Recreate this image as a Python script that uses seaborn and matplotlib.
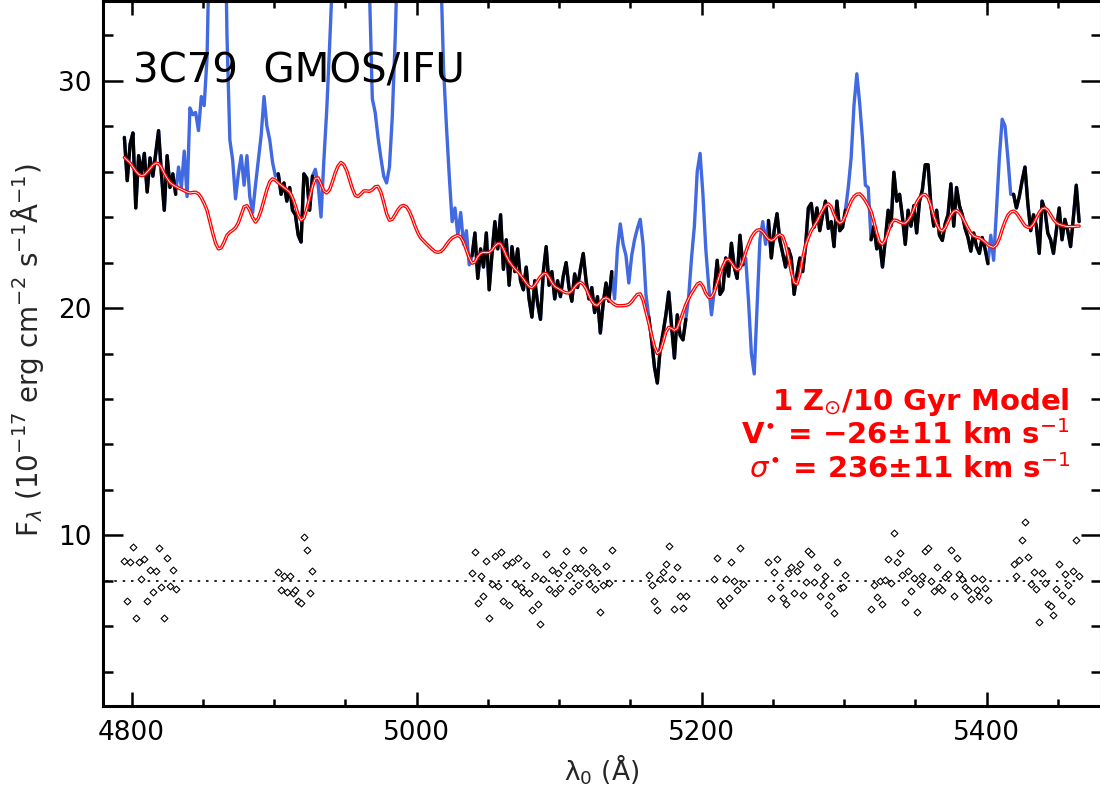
import numpy as np
import pandas as pd
import matplotlib
matplotlib.use("Agg")
import matplotlib.pyplot as plt
from matplotlib.ticker import MultipleLocator, FixedLocator
import seaborn as sns

# Rest-frame wavelength grid of the extracted spectrum (Angstrom)
wave = np.arange(4795, 5466, 2)

# Observed flux density, 1e-17 erg/cm2/s/A
flux = [
    27.5, 25.6, 27.2, 27.7, 24.4, 26.7, 25.9, 26.8, 25.1, 26.6,   # 4795
    25.8, 26.8, 27.8, 25.9, 24.3, 26.7, 25.3, 25.9, 25.0, 26.2,   # 4815
    25.3, 26.9, 24.9, 28.8, 28.5, 28.6, 27.8, 29.3, 28.9, 31.0,   # 4835
    37.0, 43.0, 48.0, 50.0, 47.0, 40.0, 32.0, 27.4, 26.5, 24.8,   # 4855
    25.9, 26.7, 25.4, 26.7, 24.9, 24.2, 25.4, 26.5, 27.6, 29.3,   # 4875
    28.0, 27.4, 26.4, 25.8, 25.9, 25.0, 25.5, 24.7, 25.3, 24.3,   # 4895
    24.1, 23.2, 22.9, 25.9, 25.7, 24.3, 25.8, 26.1, 25.4, 24.0,   # 4915
    26.5, 28.7, 31.5, 34.5, 40.0, 47.0, 55.0, 62.0, 66.0, 68.0,   # 4935
    69.0, 66.0, 61.0, 54.0, 47.0, 40.0, 34.0, 29.2, 28.6, 27.5,   # 4955
    26.6, 25.8, 25.5, 26.2, 28.4, 31.8, 36.0, 45.0, 60.0, 80.0,   # 4975
    100., 130., 160., 180., 190., 185., 170., 140., 100., 70.0,   # 4995
    45.0, 35.0, 30.5, 28.0, 25.8, 23.8, 24.4, 23.2, 24.2, 22.8,   # 5015
    23.4, 21.9, 22.3, 23.3, 21.3, 22.6, 21.8, 23.3, 20.8, 22.4,   # 5035
    23.8, 22.6, 24.1, 21.7, 23.0, 21.0, 22.7, 21.6, 22.6, 21.2,   # 5055
    20.8, 21.8, 20.4, 19.6, 21.2, 20.2, 19.5, 21.6, 22.7, 21.0,   # 5075
    21.6, 20.4, 21.2, 20.5, 21.4, 22.0, 20.9, 20.3, 21.5, 20.9,   # 5095
    21.7, 22.4, 21.2, 20.4, 20.9, 19.8, 20.5, 18.9, 20.2, 21.1,   # 5115
    20.3, 21.6, 20.4, 22.6, 23.7, 22.8, 22.3, 21.1, 22.3, 23.0,   # 5135
    23.5, 23.9, 22.8, 20.6, 19.6, 18.6, 17.4, 16.7, 18.2, 18.9,   # 5155
    19.7, 20.7, 19.2, 17.8, 19.7, 18.8, 18.6, 19.5, 20.5, 22.2,   # 5175
    23.6, 26.0, 26.8, 25.0, 22.6, 21.0, 19.7, 20.8, 22.1, 20.6,   # 5195
    20.8, 22.2, 21.4, 22.85, 21.8, 21.3, 23.2, 21.9, 22.2, 20.3,  # 5215
    18.0, 17.1, 20.0, 23.0, 23.8, 22.8, 23.85, 22.2, 23.4, 24.15, # 5235
    22.97, 22.4, 21.8, 22.6, 22.2, 20.6, 21.5, 22.2, 21.6, 22.7,  # 5255
    24.4, 24.6, 23.55, 24.4, 23.4, 24.1, 24.7, 23.5, 23.8, 22.7,  # 5275
    24.7, 23.4, 23.55, 24.3, 25.3, 26.6, 28.9, 30.3, 29.0, 27.4,  # 5295
    25.4, 25.3, 23.0, 23.6, 22.6, 22.9, 21.8, 23.0, 24.3, 23.6,   # 5315
    25.97, 24.7, 25.0, 24.0, 22.8, 24.3, 23.6, 24.5, 23.3, 24.7,  # 5335
    25.2, 26.3, 26.3, 24.5, 23.6, 24.3, 23.2, 22.97, 23.7, 24.1,  # 5355
    25.46, 23.6, 25.3, 24.5, 24.1, 23.5, 23.1, 22.5, 23.3, 22.7,  # 5375
    22.4, 23.1, 22.6, 21.95, 23.2, 22.1, 24.3, 26.6, 28.3, 28.0,  # 5395
    26.6, 25.0, 25.0, 24.4, 24.9, 25.6, 26.2, 24.6, 23.4, 24.1,   # 5415
    23.6, 22.4, 24.7, 24.3, 23.3, 23.0, 22.4, 23.4, 24.4, 23.0,   # 5435
    23.9, 23.4, 22.7, 24.0, 25.4, 23.8,                           # 5455
]

# Best-fitting stellar population model on the same grid
model = [
    26.62, 26.5, 26.38, 26.2, 26.02, 25.88, 25.82, 25.85, 25.98, 26.12,   # 4795
    26.28, 26.37, 26.35, 26.18, 25.92, 25.7, 25.52, 25.42, 25.35, 25.28,  # 4815
    25.22, 25.16, 25.1, 25.06, 25.08, 25.09, 25.02, 24.85, 24.6, 24.3,    # 4835
    23.8, 23.3, 22.85, 22.6, 22.65, 22.9, 23.2, 23.33, 23.42, 23.53,      # 4855
    23.75, 24.1, 24.45, 24.5, 24.3, 23.98, 23.78, 23.95, 24.3, 24.75,     # 4875
    25.2, 25.55, 25.68, 25.62, 25.5, 25.4, 25.3, 25.2, 25.09, 24.85,      # 4895
    24.5, 24.1, 23.86, 23.95, 24.35, 24.85, 25.35, 25.7, 25.72, 25.45,    # 4915
    25.15, 25.06, 25.2, 25.55, 25.95, 26.25, 26.4, 26.3, 26.05, 25.65,    # 4935
    25.25, 24.95, 24.9, 25.02, 25.15, 25.15, 25.13, 25.2, 25.33, 25.35,   # 4955
    25.1, 24.65, 24.15, 23.86, 23.9, 24.1, 24.32, 24.47, 24.51, 24.45,    # 4975
    24.25, 23.95, 23.6, 23.3, 23.08, 22.95, 22.82, 22.7, 22.58, 22.48,    # 4995
    22.45, 22.48, 22.6, 22.78, 22.95, 23.08, 23.15, 23.19, 23.12, 22.9,   # 5015
    22.55, 22.2, 21.97, 22.02, 22.25, 22.4, 22.45, 22.43, 22.45, 22.55,   # 5035
    22.72, 22.83, 22.82, 22.6, 22.3, 22.05, 21.88, 21.72, 21.6, 21.45,    # 5055
    21.28, 21.1, 20.95, 20.89, 21.0, 21.2, 21.38, 21.5, 21.52, 21.35,     # 5075
    21.12, 20.95, 20.87, 20.8, 20.72, 20.67, 20.66, 20.75, 20.92, 21.06,  # 5095
    21.13, 21.05, 20.85, 20.55, 20.3, 20.14, 20.12, 20.25, 20.4, 20.45,   # 5115
    20.38, 20.25, 20.15, 20.1, 20.1, 20.1, 20.12, 20.16, 20.28, 20.45,    # 5135
    20.6, 20.62, 20.35, 19.85, 19.35, 18.8, 18.3, 18.0, 18.1, 18.5,       # 5155
    18.95, 19.15, 19.1, 19.02, 19.1, 19.45, 19.8, 20.15, 20.42, 20.65,    # 5175
    20.85, 21.05, 21.12, 20.95, 20.65, 20.47, 20.48, 20.7, 21.1, 21.5,    # 5195
    21.85, 22.1, 22.15, 22.0, 21.8, 21.68, 21.75, 22.05, 22.45, 22.8,     # 5215
    23.1, 23.3, 23.42, 23.44, 23.35, 23.18, 23.02, 22.97, 23.02, 23.17,   # 5235
    23.23, 23.15, 22.8, 22.25, 21.6, 21.12, 21.05, 21.45, 22.2, 22.75,    # 5255
    23.1, 23.4, 23.6, 23.8, 24.05, 24.3, 24.5, 24.58, 24.45, 24.12,       # 5275
    23.85, 23.73, 23.8, 24.05, 24.4, 24.7, 24.9, 25.0, 25.02, 24.9,       # 5295
    24.72, 24.5, 24.25, 23.8, 23.3, 22.9, 22.8, 22.98, 23.35, 23.7,       # 5315
    23.87, 23.85, 23.78, 23.73, 23.73, 23.85, 24.05, 24.35, 24.65, 24.85, # 5335
    24.97, 24.99, 24.85, 24.5, 24.05, 23.7, 23.45, 23.38, 23.52, 23.8,    # 5355
    24.08, 24.25, 24.29, 24.2, 24.0, 23.75, 23.5, 23.3, 23.17, 23.11,     # 5375
    23.08, 23.0, 22.9, 22.78, 22.7, 22.67, 22.78, 23.05, 23.45, 23.8,     # 5395
    24.08, 24.22, 24.26, 24.18, 24.0, 23.8, 23.62, 23.55, 23.55, 23.7,    # 5415
    23.95, 24.2, 24.36, 24.4, 24.3, 24.1, 23.9, 23.75, 23.67, 23.64,      # 5435
    23.6, 23.58, 23.58, 23.58, 23.6, 23.6,                                # 5455
]

# Wavelength windows used in the fit (emission lines masked outside them)
fit_windows = [(4794, 4832), (4902, 4928), (5038, 5138), (5162, 5190),
               (5208, 5230), (5245, 5302), (5318, 5402), (5418, 5466)]

residual_offset = 8.0

x_ticks = [4800, 5000, 5200, 5400]
y_ticks = [10, 20, 30]

title = "3C79  GMOS/IFU"
fit_lines = ["1 Z$_{\\odot}$/10 Gyr Model",
             "V$^{\\bullet}$ = \u221226\u00b111 km s$^{-1}$",
             "$\\sigma^{\\bullet}$ = 236\u00b111 km s$^{-1}$"]

if not (len(wave) == len(flux) == len(model)):
    raise ValueError(f"length mismatch {len(wave)} {len(flux)} {len(model)}")

spec = pd.DataFrame({"wave": wave, "flux": flux, "model": model})
in_fit = np.zeros(len(spec), dtype=bool)
for lo, hi in fit_windows:
    in_fit |= (spec["wave"] > lo) & (spec["wave"] < hi)
spec["in_fit"] = in_fit
spec["resid"] = spec["flux"] - spec["model"] + residual_offset

sns.set_style("ticks")
plt.rcParams["font.family"] = ["DejaVu Sans"]
plt.rcParams["mathtext.fontset"] = "dejavusans"

fig = plt.figure(figsize=(11.0, 7.9), dpi=100)
W, H = 1100.0, 790.0
ax = fig.add_axes([103 / W, (H - 706) / H, (1100.5 - 103) / W, (706 - 1) / H])

# full spectrum (masked lines show in blue)
sns.lineplot(data=spec, x="wave", y="flux", ax=ax, color="#4169e1",
             lw=2.4, sort=False, estimator=None, zorder=2)
# fitted windows in black
for lo, hi in fit_windows:
    seg = spec[(spec["wave"] > lo) & (spec["wave"] < hi)]
    sns.lineplot(data=seg, x="wave", y="flux", ax=ax, color="black",
                 lw=2.4, sort=False, estimator=None, zorder=3)
# model: red with a thin white core
sns.lineplot(data=spec, x="wave", y="model", ax=ax, color="red",
             lw=2.5, sort=False, estimator=None, zorder=4)
sns.lineplot(data=spec, x="wave", y="model", ax=ax, color="white",
             lw=0.6, sort=False, estimator=None, zorder=5)

# residuals
ax.hlines(residual_offset, 4782, 5466, colors="black", lw=1.2,
          linestyles=(0, (1.5, 3.5)), zorder=2)
sns.scatterplot(data=spec[spec["in_fit"]], x="wave", y="resid", ax=ax,
                marker="D", s=12, facecolor="white", edgecolor="black",
                linewidth=0.8, zorder=3)

ax.set_xlim(4780, 5480)
ax.set_ylim(2.5, 33.5)

ax.xaxis.set_major_locator(FixedLocator(x_ticks))
ax.xaxis.set_minor_locator(MultipleLocator(50))
ax.yaxis.set_major_locator(FixedLocator(y_ticks))
ax.yaxis.set_minor_locator(MultipleLocator(2))
ax.tick_params(axis="both", which="both", direction="in", top=True,
               right=True, width=1.8, colors="black", labelsize=19)
ax.tick_params(axis="x", which="major", length=10, pad=10)
ax.tick_params(axis="x", which="minor", length=5)
ax.tick_params(axis="y", which="major", length=14.5, pad=8)
ax.tick_params(axis="y", which="minor", length=7.2)
for side in ["left", "right", "top", "bottom"]:
    ax.spines[side].set_visible(True)
    ax.spines[side].set_linewidth(2.2)
    ax.spines[side].set_color("black")

ax.set_xlabel("\u03bb$_0$ (\u00c5)", fontsize=19, labelpad=5)
ax.set_ylabel("F$_\\lambda$ (10$^{-17}$ erg cm$^{-2}$ s$^{-1}$\u00c5$^{-1}$)",
              fontsize=20)
ax.yaxis.set_label_coords(-0.057, 0.505)

fig.text(133 / W, 1 - 82 / H, title, fontsize=29, color="black",
         ha="left", va="baseline")
for i, line in enumerate(fit_lines):
    fig.text(1070 / W, 1 - (410 + 34 * i) / H, line, fontsize=21,
             fontweight="bold", color="red", ha="right", va="baseline")

fig.savefig("out.png", dpi=100)
